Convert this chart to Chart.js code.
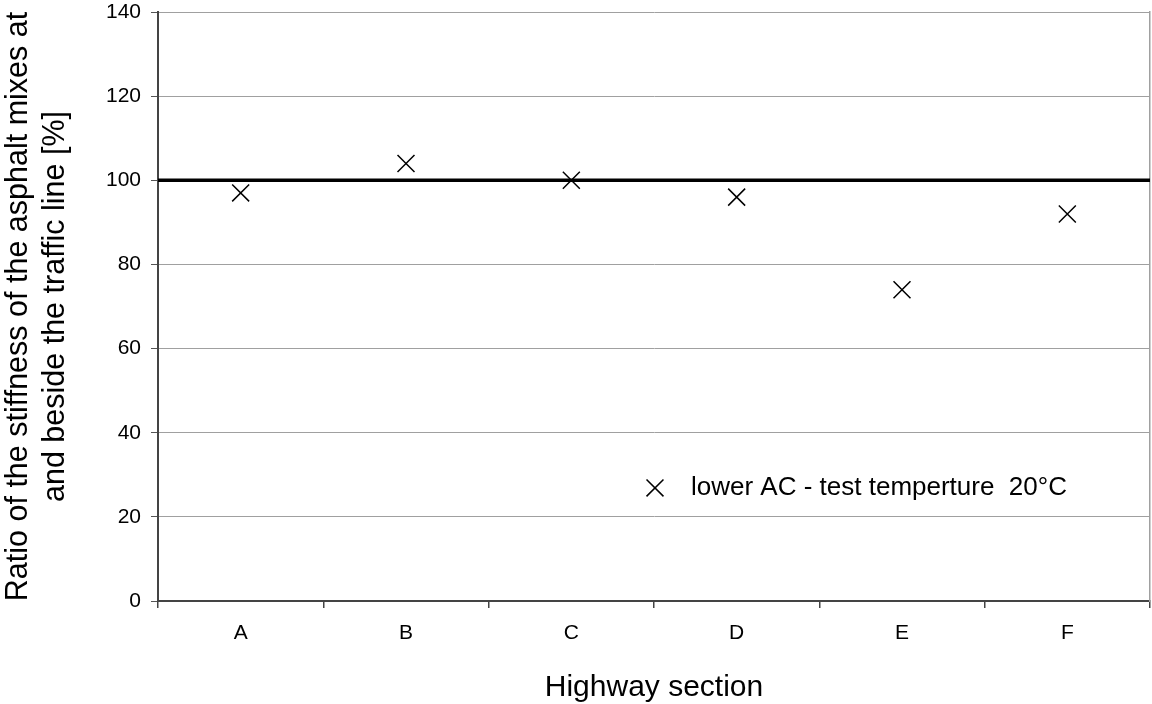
<!DOCTYPE html>
<html>
<head>
<meta charset="utf-8">
<script src="https://cdn.jsdelivr.net/npm/chart.js@4.4.1/dist/chart.umd.min.js"></script>
<style>
  body { margin: 0; background: #fff; }
  canvas { display: block; }
</style>
</head>
<body>
<canvas id="grafico" width="1152" height="704"></canvas>
<script>
const sections = ['A', 'B', 'C', 'D', 'E', 'F'];
const stiffnessRatio = [97, 104, 100, 96, 74, 92];
const referenceLevel = 100;
const yMin = 0, yMax = 140, yStep = 20;
const seriesLabel = 'lower AC - test temperture  20\u00b0C';

const fuente = "'Liberation Sans', Arial, sans-serif";

function sinPadding(scale) {
  scale.paddingTop = 0;
  scale.paddingBottom = 0;
  scale.paddingLeft = 0;
  scale.paddingRight = 0;
}

// leyenda dentro del area del grafico
const leyendaInterna = {
  id: 'leyendaInterna',
  afterDatasetsDraw(chart) {
    const { ctx, chartArea } = chart;
    const x = chartArea.left + chartArea.width * 0.501;
    const y = chartArea.top + chartArea.height * 0.808;
    const d = 12 * Math.SQRT1_2;
    ctx.save();
    ctx.strokeStyle = '#000';
    ctx.lineWidth = 1.5;
    ctx.beginPath();
    ctx.moveTo(x - d, y - d); ctx.lineTo(x + d, y + d);
    ctx.moveTo(x - d, y + d); ctx.lineTo(x + d, y - d);
    ctx.stroke();
    ctx.fillStyle = '#000';
    ctx.font = '26px ' + fuente;
    ctx.textBaseline = 'middle';
    ctx.fillText(chart.data.datasets[0].label, x + 36, y);
    ctx.restore();
  }
};

new Chart(document.getElementById('grafico').getContext('2d'), {
  type: 'line',
  data: {
    labels: sections,
    datasets: [{
      label: seriesLabel,
      data: stiffnessRatio,
      showLine: false,
      pointStyle: 'crossRot',
      pointRadius: 12,
      pointHoverRadius: 12,
      pointBorderWidth: 1.5,
      borderColor: '#000',
      backgroundColor: '#000',
      xAxisID: 'x'
    }, {
      label: 'reference',
      data: [{ x: 0, y: referenceLevel }, { x: sections.length, y: referenceLevel }],
      borderColor: '#000',
      borderWidth: 3.5,
      pointRadius: 0,
      xAxisID: 'xRef'
    }]
  },
  options: {
    responsive: false,
    animation: false,
    layout: { autoPadding: false, padding: { top: 12, right: 2, left: 0, bottom: 0 } },
    plugins: {
      legend: { display: false },
      tooltip: { enabled: false }
    },
    scales: {
      x: {
        type: 'category',
        offset: true,
        grid: { offset: true, drawOnChartArea: false, tickLength: 7, color: '#444', lineWidth: 1.5 },
        border: { color: '#444', width: 2 },
        ticks: { color: '#000', font: { family: fuente, size: 21 }, padding: 13 },
        title: {
          display: true,
          text: 'Highway section',
          color: '#000',
          font: { family: fuente, size: 30, lineHeight: 1 },
          padding: { top: 0, bottom: 1 }
        },
        afterFit(scale) { scale.height = 103; sinPadding(scale); }
      },
      xRef: {
        type: 'linear',
        min: 0,
        max: sections.length,
        display: false
      },
      y: {
        min: yMin,
        max: yMax,
        ticks: { stepSize: yStep, color: '#000', font: { family: fuente, size: 21 }, padding: 10 },
        grid: { color: '#a0a0a0', lineWidth: 1, tickLength: 7, tickColor: '#555' },
        border: { color: '#444', width: 2 },
        title: {
          display: true,
          text: ['Ratio of the stiffness of the asphalt mixes at', 'and beside the traffic line [%]'],
          color: '#000',
          font: { family: fuente, size: 30.5, lineHeight: 1.22 },
          padding: { top: 0, bottom: 0 }
        },
        afterFit(scale) { scale.width = 158; sinPadding(scale); }
      },
      yBorde: {
        position: 'right',
        min: yMin,
        max: yMax,
        ticks: { display: false },
        grid: { drawOnChartArea: false, drawTicks: false },
        border: { color: '#a0a0a0', width: 1.5 },
        afterFit(scale) { scale.width = 0; sinPadding(scale); }
      }
    }
  },
  plugins: [leyendaInterna]
});
</script>
</body>
</html>
